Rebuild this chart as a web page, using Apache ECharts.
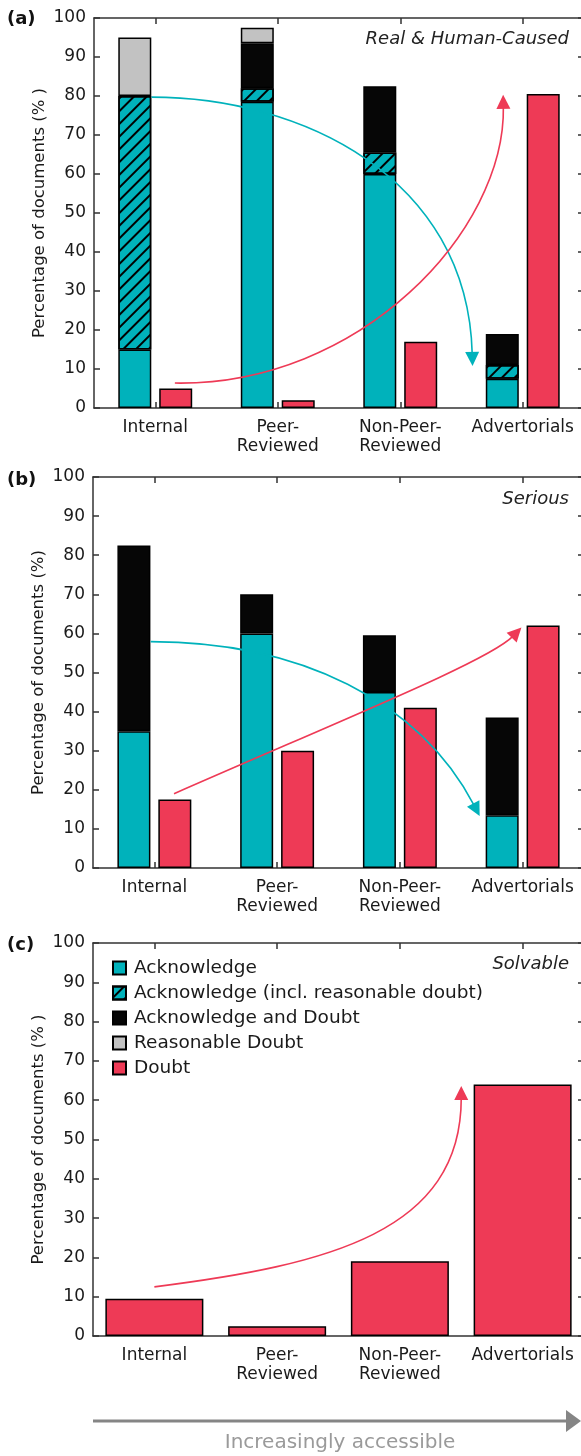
<!DOCTYPE html>
<html>
<head>
<meta charset="utf-8">
<script src="https://cdn.jsdelivr.net/npm/echarts/dist/echarts.min.js"></script>
<style>
html,body{margin:0;padding:0;background:#fff;}
#chart{width:581px;height:1456px;}
</style>
</head>
<body>
<div id="chart"></div>
<script>
// ---------- data ----------
const categories = ['Internal', 'Peer-\nReviewed', 'Non-Peer-\nReviewed', 'Advertorials'];
const legendNames = ['Acknowledge', 'Acknowledge (incl. reasonable doubt)', 'Acknowledge and Doubt', 'Reasonable Doubt', 'Doubt'];
const panelLabels = ['(a)', '(b)', '(c)'];
const panelTitles = ['Real & Human-Caused', 'Serious', 'Solvable'];
const yAxisNames = ['Percentage of documents (% )', 'Percentage of documents (%)', 'Percentage of documents (% )'];
const axisLabelText = 'Increasingly accessible';

// panel (a) Real & Human-Caused  (segment heights, stacked)
const aAcknowledge = [15, 78.5, 60, 7.5];
const aAckInclDoubt = [65, 3.5, 5.5, 3.5];
const aAckAndDoubt = [0, 11.5, 17, 8];
const aReasonable = [15, 4, 0, 0];
const aDoubt = [5, 2, 17, 80.5];

// panel (b) Serious
const bAcknowledge = [35, 60, 45, 13.5];
const bAckAndDoubt = [47.5, 10, 14.5, 25];
const bDoubt = [17.5, 30, 41, 62];

// panel (c) Solvable
const cDoubt = [9.5, 2.5, 19, 64];

// trend arrows: cubic curves [start, control1, control2, tip] in (category position, %) units
const aTealCurve = [[-0.03, 79.7], [1.18, 79.7], [2.55, 59.5], [2.59, 10.8]];
const aRedCurve = [[0.16, 6.4], [1.67, 5.6], [2.86, 45.4], [2.84, 80.3]];
const bTealCurve = [[-0.03, 57.9], [1.18, 57.9], [2.16, 42.8], [2.65, 13.3]];
const bRedCurve = [[0.16, 19.0], [1.59, 38.7], [2.73, 53.1], [2.99, 61.5]];
const cRedCurve = [[0.0, 12.5], [1.42, 18.1], [2.50, 26.5], [2.50, 63.6]];

// ---------- styles ----------
const TEAL = '#00B2BB';
const RED = '#EE3A56';
const BLACK = '#060606';
const GREY = '#C2C2C2';
const FRAME = '#333333';
const TXT = '#1a1a1a';
const FONT = 'DejaVu Sans';

const grids = [
  {left: 94, top: 18, width: 490, height: 390},
  {left: 93, top: 477, width: 491, height: 391},
  {left: 93, top: 943, width: 491, height: 393}
];

const hatch = {
  symbol: 'rect', symbolSize: 1, color: '#000',
  dashArrayX: [1, 0], dashArrayY: [2, 7], rotation: -Math.PI / 4
};

function nz(arr) { return arr.map(v => (v === 0 ? null : v)); }

const lineStyle = {color: FRAME, width: 1.5};
const xAxes = [], yAxes = [];
grids.forEach((g, i) => {
  xAxes.push({
    gridIndex: i, type: 'category', data: categories, position: 'bottom',
    axisLine: {show: true, onZero: false, lineStyle}, axisTick: {show: true, inside: true, alignWithLabel: true, length: 6, lineStyle},
    axisLabel: {interval: 0, fontSize: 17, lineHeight: 19, color: TXT, margin: 10, fontFamily: FONT},
    splitLine: {show: false}
  });
  xAxes.push({
    gridIndex: i, type: 'category', data: categories, position: 'top',
    axisLine: {show: true, onZero: false, lineStyle}, axisTick: {show: true, inside: true, alignWithLabel: true, length: 6, lineStyle},
    axisLabel: {show: false}, splitLine: {show: false}
  });
  xAxes.push({gridIndex: i, type: 'value', min: -0.5, max: 3.5, show: false, axisLine: {onZero: false}});
  yAxes.push({
    gridIndex: i, type: 'value', min: 0, max: 100, interval: 10, position: 'left',
    name: yAxisNames[i], nameLocation: 'middle', nameGap: 46, nameRotate: 90, nameMoveOverlap: false,
    nameTextStyle: {fontSize: 16.5, color: TXT, fontFamily: FONT},
    axisLine: {show: true, onZero: false, lineStyle}, axisTick: {show: true, inside: true, length: 6, lineStyle},
    axisLabel: {fontSize: 17, color: TXT, margin: 8, fontFamily: FONT},
    splitLine: {show: false}
  });
  yAxes.push({
    gridIndex: i, type: 'value', min: 0, max: 100, interval: 10, position: 'right',
    axisLine: {show: true, onZero: false, lineStyle}, axisTick: {show: true, inside: true, length: 6, lineStyle},
    axisLabel: {show: false}, splitLine: {show: false}
  });
});

const border = {borderColor: '#000', borderWidth: 1.5};
function bar(name, data, gi, color, stack, extra) {
  const s = {
    name, type: 'bar', data: nz(data), xAxisIndex: gi * 3, yAxisIndex: gi * 2,
    itemStyle: Object.assign({color}, border, extra || {}),
    barWidth: gi === 2 ? 98 : 33, barGap: '24%', z: 2, silent: true
  };
  if (stack) s.stack = stack;
  return s;
}

function arrowSeries(curve, gi, color) {
  return {
    type: 'custom', xAxisIndex: gi * 3 + 2, yAxisIndex: gi * 2, z: 10, silent: true, clip: false,
    dimensions: ['x0', 'y0', 'x1', 'y1', 'x2', 'y2', 'x3', 'y3'],
    encode: {x: [0, 2, 4, 6], y: [1, 3, 5, 7]},
    data: [curve.flat()],
    renderItem(params, api) {
      const p = [0, 1, 2, 3].map(k => api.coord([api.value(2 * k), api.value(2 * k + 1)]));
      const tip = p[3];
      const dx = tip[0] - p[2][0], dy = tip[1] - p[2][1];
      const L = Math.hypot(dx, dy) || 1;
      const ux = dx / L, uy = dy / L;
      const len = 14, hw = 7;
      const base = [tip[0] - ux * len, tip[1] - uy * len];
      return {
        type: 'group',
        children: [
          {type: 'bezierCurve',
           shape: {x1: p[0][0], y1: p[0][1], cpx1: p[1][0], cpy1: p[1][1], cpx2: p[2][0], cpy2: p[2][1], x2: base[0] + ux * 2, y2: base[1] + uy * 2},
           style: {stroke: color, lineWidth: 1.6, fill: 'none'}},
          {type: 'polygon',
           shape: {points: [tip, [base[0] - uy * hw, base[1] + ux * hw], [base[0] + uy * hw, base[1] - ux * hw]]},
           style: {fill: color}}
        ]
      };
    }
  };
}

const series = [
  bar('Acknowledge', aAcknowledge, 0, TEAL, 'a'),
  bar('Acknowledge (incl. reasonable doubt)', aAckInclDoubt, 0, TEAL, 'a', {decal: hatch}),
  bar('Acknowledge and Doubt', aAckAndDoubt, 0, BLACK, 'a'),
  bar('Reasonable Doubt', aReasonable, 0, GREY, 'a'),
  bar('Doubt', aDoubt, 0, RED),
  bar('Acknowledge', bAcknowledge, 1, TEAL, 'b'),
  bar('Acknowledge and Doubt', bAckAndDoubt, 1, BLACK, 'b'),
  bar('Doubt', bDoubt, 1, RED),
  bar('Doubt', cDoubt, 2, RED),
  arrowSeries(aTealCurve, 0, TEAL),
  arrowSeries(aRedCurve, 0, RED),
  arrowSeries(bTealCurve, 1, TEAL),
  arrowSeries(bRedCurve, 1, RED),
  arrowSeries(cRedCurve, 2, RED)
];

const labelY = [19, 480, 945];
const titleY = [39.5, 499.5, 964.5];
const graphic = [];
panelLabels.forEach((t, i) => {
  graphic.push({type: 'text', x: 7, y: labelY[i], silent: true,
    style: {text: t, fontSize: 18, fontWeight: 'bold', fontFamily: FONT, fill: '#111', align: 'left', verticalAlign: 'middle'}});
  graphic.push({type: 'text', x: 569, y: titleY[i], silent: true,
    style: {text: panelTitles[i], fontSize: 18, fontStyle: 'italic', fontFamily: FONT, fill: '#222', align: 'right', verticalAlign: 'middle'}});
});
graphic.push({type: 'line', silent: true, shape: {x1: 93, y1: 1421, x2: 570, y2: 1421}, style: {stroke: '#858585', lineWidth: 3}});
graphic.push({type: 'polygon', silent: true, shape: {points: [[581, 1421], [566, 1410], [566, 1432]]}, style: {fill: '#858585'}});
graphic.push({type: 'text', x: 340, y: 1443, silent: true,
  style: {text: axisLabelText, fontSize: 20, fontFamily: FONT, fill: '#9a9a9a', align: 'center', verticalAlign: 'middle'}});

const option = {
  animation: false,
  backgroundColor: '#fff',
  textStyle: {fontFamily: FONT},
  grid: grids.map(g => Object.assign({containLabel: false, outerBoundsMode: 'none'}, g)),
  xAxis: xAxes,
  yAxis: yAxes,
  legend: {
    data: legendNames, orient: 'vertical', left: 107, top: 953,
    itemWidth: 19, itemHeight: 13, itemGap: 5, icon: 'path://M0,0h13v13h-13z',
    selectedMode: false,
    textStyle: {fontSize: 18.5, lineHeight: 20, color: TXT, fontFamily: FONT}
  },
  graphic,
  series
};

const chart = echarts.init(document.getElementById('chart'), null, {renderer: 'canvas'});
chart.setOption(option);
</script>
</body>
</html>
